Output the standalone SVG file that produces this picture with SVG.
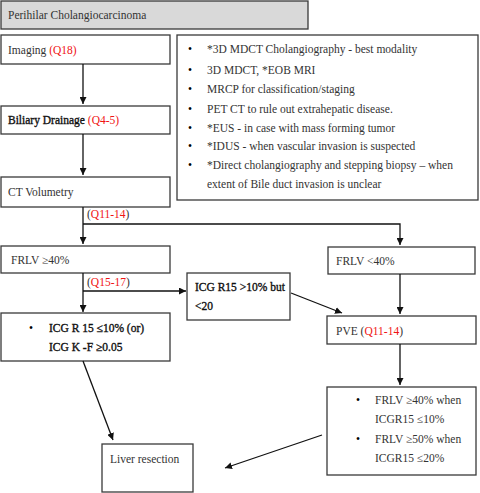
<svg xmlns="http://www.w3.org/2000/svg" width="480" height="493" viewBox="0 0 480 493">
<style>
.box{fill:#fff;stroke:#3a3a3a;stroke-width:1.3}
.t{font-family:"Liberation Serif","Times New Roman",serif;font-size:11.5px;fill:#333}
.b{fill:#111;stroke:#111;stroke-width:0.35}
.r{fill:#f01414;stroke:none}
.d{fill:#000}
.ln{stroke:#111;stroke-width:1.3;fill:none}
</style>
<defs>
<marker id="ah" viewBox="0 0 10 10" refX="10" refY="5" markerWidth="7" markerHeight="7" markerUnits="userSpaceOnUse" orient="auto">
<path d="M0,0 L10,5 L0,10 z" fill="#111"/>
</marker>
</defs>
<rect width="480" height="493" fill="#fff"/>
<g id="title"><rect class="box" x="1" y="1" width="307" height="28" style="fill:#d9d9d9"/><text class="t" x="8" y="19">Perihilar Cholangiocarcinoma</text></g>
<g id="imaging"><rect class="box" x="1" y="35" width="169" height="29"/><text class="t" x="8" y="54">Imaging <tspan class="r">(Q18)</tspan></text></g>
<g id="drainage"><rect class="box" x="1" y="106" width="169" height="28"/><text class="t" x="8" y="124"><tspan class="b">Biliary Drainage</tspan> <tspan class="r">(Q4-5)</tspan></text></g>
<g id="ctvol"><rect class="box" x="1" y="177" width="169" height="30"/><text class="t" x="8" y="196">CT Volumetry</text></g>
<g id="imaginglist"><rect class="box" x="177" y="35" width="301" height="165"/>
<g class="t">
<text class="d" x="188" y="53">•</text><text x="207" y="53">*3D MDCT Cholangiography - best modality</text>
<text class="d" x="188" y="74">•</text><text x="207" y="74">3D MDCT, *EOB MRI</text>
<text class="d" x="188" y="93">•</text><text x="207" y="93">MRCP for classification/staging</text>
<text class="d" x="188" y="113">•</text><text x="207" y="113">PET CT to rule out extrahepatic disease.</text>
<text class="d" x="188" y="132">•</text><text x="207" y="132">*EUS - in case with mass forming tumor</text>
<text class="d" x="188" y="150">•</text><text x="207" y="150">*IDUS - when vascular invasion is suspected</text>
<text class="d" x="188" y="169">•</text><text x="207" y="169">*Direct cholangiography and stepping biopsy – when</text>
<text x="207" y="188">extent of Bile duct invasion is unclear</text>
</g></g>
<g id="frlv40"><rect class="box" x="1" y="246" width="169" height="27"/><text class="t" x="11" y="264">FRLV ≥40%</text></g>
<g id="frlvlt40"><rect class="box" x="328" y="247" width="147" height="27"/><text class="t" x="336" y="265">FRLV &lt;40%</text></g>
<g id="icgmid"><rect class="box" x="187" y="273" width="103" height="47"/><text class="t b" x="195" y="291">ICG R15 &gt;10% but</text><text class="t b" x="195" y="310">&lt;20</text></g>
<g id="icglow"><rect class="box" x="1" y="313" width="169" height="48"/><text class="t d" x="29" y="332">•</text><text class="t b" x="49" y="332">ICG R 15 ≤10% (or)</text><text class="t b" x="49" y="351">ICG K -F ≥0.05</text></g>
<g id="pve"><rect class="box" x="327" y="316" width="149" height="28"/><text class="t" x="336" y="335">PVE (<tspan class="r">Q11-14</tspan>)</text></g>
<g id="criteria"><rect class="box" x="327" y="387" width="149" height="88"/>
<g class="t"><text class="d" x="356" y="404">•</text><text x="375" y="404">FRLV ≥40% when</text><text x="375" y="423">ICGR15 ≤10%</text>
<text class="d" x="356" y="443">•</text><text x="375" y="443">FRLV ≥50% when</text><text x="375" y="462">ICGR15 ≤20%</text></g></g>
<g id="resection"><rect class="box" x="102" y="444" width="91" height="48"/><text class="t" x="110" y="463">Liver resection</text></g>
<g id="connectors">
<line class="ln" x1="83" y1="64" x2="83" y2="104" marker-end="url(#ah)"/>
<line class="ln" x1="83" y1="134" x2="83" y2="175" marker-end="url(#ah)"/>
<line class="ln" x1="83" y1="207" x2="83" y2="244" marker-end="url(#ah)"/>
<polyline class="ln" points="83,224 400,224 400,245" marker-end="url(#ah)"/>
<line class="ln" x1="83" y1="273" x2="83" y2="312" marker-end="url(#ah)"/>
<line class="ln" x1="83" y1="291" x2="186" y2="291" marker-end="url(#ah)"/>
<line class="ln" x1="291" y1="293" x2="342" y2="313" marker-end="url(#ah)"/>
<line class="ln" x1="400" y1="274" x2="400" y2="314" marker-end="url(#ah)"/>
<line class="ln" x1="400" y1="344" x2="400" y2="385" marker-end="url(#ah)"/>
<line class="ln" x1="83" y1="361" x2="113" y2="440" marker-end="url(#ah)"/>
<line class="ln" x1="322" y1="435" x2="225" y2="468" marker-end="url(#ah)"/>
<text class="t" x="87" y="218">(<tspan class="r">Q11-14</tspan>)</text>
<text class="t" x="87" y="286">(<tspan class="r">Q15-17</tspan>)</text>
</g>
</svg>
